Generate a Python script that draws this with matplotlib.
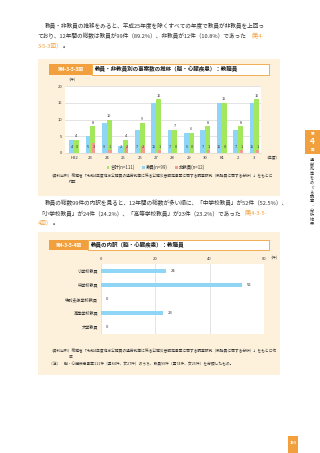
import numpy as np
import matplotlib.pyplot as plt
from matplotlib.patches import Rectangle

plt.rcParams['font.family'] = ['Noto Sans CJK JP', 'DejaVu Sans']

# 第4-3-5-3図 data
years = ['H22', '23', '24', '25', '26', '27', '28', '29', '30', 'R1', '2', '3']
total = [4, 8, 10, 4, 9, 16, 7, 6, 8, 15, 8, 16]
teachers = [4, 5, 9, 2, 7, 15, 7, 6, 7, 15, 7, 15]
non_teachers = [0, 3, 1, 2, 2, 1, 0, 0, 1, 0, 1, 1]
y_ticks1 = [0, 5, 10, 15, 20]

# 第4-3-5-4図 data
job_types = ['小学校教員', '中学校教員', '特別支援学校教員', '高等学校教員', '大学教員']
job_counts = [24, 52, 0, 23, 0]
x_ticks2 = [0, 20, 40, 60]

GREEN = '#A3E85C'
BLUE = '#8FD6F6'
RED = '#F59B8E'
ORANGE = '#F2A03D'
CREAM = '#FDF1DC'
TXT = '#333333'

W, H = 320, 453
fig = plt.figure(figsize=(W / 100, H / 100), dpi=100)

# background axes in pixel coords (y down)
bg = fig.add_axes([0, 0, 1, 1], zorder=-1)
bg.set_xlim(0, W)
bg.set_ylim(H, 0)
bg.axis('off')


def box(x0, y0, x1, y1, fc, ec='none', lw=0):
    bg.add_patch(Rectangle((x0, y0), x1 - x0, y1 - y0, facecolor=fc,
                           edgecolor=ec, linewidth=lw))


def ax_at(x0, y0, x1, y1):
    return fig.add_axes([x0 / W, 1 - y1 / H, (x1 - x0) / W, (y1 - y0) / H])


def line(x, y, parts, size):
    # texts of several colours one after another
    t = bg.text(x, y, parts[0][0], color=parts[0][1], fontsize=size,
                va='center', ha='left')
    for s, c in parts[1:]:
        t = bg.annotate(s, xy=(1, 0), xycoords=t, va='bottom', ha='left',
                        color=c, fontsize=size)
    return t


fs_body = 4.1
# paragraph 1
line(45, 26, [('教員・非教員の推移をみると、平成25年度を除くすべての年度で教員が非教員を上回っ', TXT)], fs_body)
line(38, 36, [('ており、12年間の総数は教員が99件（89.2%）、非教員が12件（10.8%）であった', TXT),
              ('（第4-', ORANGE)], fs_body)
line(38, 46, [('3-5-3図）', ORANGE), ('。', TXT)], fs_body)

# ---- box 1 ----
box(38, 59, 280, 196, CREAM)
box(49, 64, 92, 75, ORANGE)
box(92, 64, 269, 75, 'white', ORANGE, 0.6)
bg.text(70.5, 69.5, '第4-3-5-3図', color='white', fontsize=3.4, ha='center', va='center', weight='bold')
bg.text(95, 69.5, '教員・非教員別の事案数の推移（脳・心臓疾患）：教職員', color='#222222',
        fontsize=4.0, ha='left', va='center', weight='bold')

ax1 = ax_at(65, 86, 261, 153)
x = np.arange(len(years))
b_t = ax1.bar(x - 0.15, teachers, width=0.3, color=BLUE, zorder=2, label='教員(n=99)')
b_a = ax1.bar(x + 0.15, total, width=0.3, color=GREEN, zorder=2, label='合計(n=111)')
b_n = ax1.bar(x + 0.2, non_teachers, width=0.2, color=RED, zorder=3, label='非教員(n=12)')
for i in range(len(years)):
    ax1.text(x[i] + 0.15, total[i] + 0.5, str(total[i]), ha='center', va='bottom', fontsize=2.8, color=TXT)
    ax1.text(x[i] - 0.15, 1.7, str(teachers[i]), ha='center', va='center', fontsize=2.8, color=TXT, zorder=4)
    ax1.text(x[i] + 0.2, 1.7, str(non_teachers[i]), ha='center', va='center', fontsize=2.8, color=TXT, zorder=4)
ax1.set_xlim(-0.55, 11.4)
ax1.set_ylim(0, 20)
ax1.set_yticks(y_ticks1)
ax1.set_xticks(x)
ax1.set_xticklabels(years)
ax1.tick_params(length=0, labelsize=3.0, colors=TXT, pad=2)
ax1.yaxis.grid(True, color='#D9D9D9', lw=0.5, zorder=0)
for s in ax1.spines.values():
    s.set_visible(False)
ax1.spines['bottom'].set_visible(True)
ax1.spines['bottom'].set_color('#D9D9D9')
ax1.spines['bottom'].set_linewidth(0.5)
bg.text(66, 80, '（件）', fontsize=2.8, color=TXT, ha='left', va='center')
bg.text(264, 158, '（年度）', fontsize=2.8, color=TXT, ha='left', va='center')
fig.legend(handles=[b_a, b_t, b_n], loc='center', bbox_to_anchor=(156 / W, 1 - 167 / H),
           ncol=3, frameon=False, fontsize=3.2, handlelength=0.6, handleheight=0.6,
           handletextpad=0.3, columnspacing=1.6, labelcolor=TXT)

src = '（資料出所）総務省「令和4年度地方公務員の過労死等に係る公務災害認定事案に関する調査研究（教職員に関する分析）」をもとに'
line(49, 176, [(src, TXT)], 2.7)
line(69, 182, [('作成', TXT)], 2.7)

# paragraph 2
line(45, 203, [('教員の総数99件の内訳を見ると、12年間の総数が多い順に、「中学校教員」が52件（52.5%）、', TXT)], fs_body)
line(38, 213, [('「小学校教員」が24件（24.2%）、「高等学校教員」が23件（23.2%）であった', TXT),
               ('（第4-3-5-', ORANGE)], fs_body)
line(38, 223, [('4図）', ORANGE), ('。', TXT)], fs_body)

# ---- box 2 ----
box(38, 232, 280, 375, CREAM)
box(49, 240, 88, 250, ORANGE)
box(88, 240, 269, 250, 'white', ORANGE, 0.6)
bg.text(68.5, 245, '第4-3-5-4図', color='white', fontsize=3.4, ha='center', va='center', weight='bold')
bg.text(91, 245, '教員の内訳（脳・心臓疾患）：教職員', color='#222222',
        fontsize=4.0, ha='left', va='center', weight='bold')

ax2 = ax_at(101, 264, 264, 334)
yy = np.arange(len(job_types))
ax2.barh(yy, job_counts, height=0.32, color=BLUE, zorder=2)
for i, v in enumerate(job_counts):
    ax2.text(v + 1.6, yy[i], str(v), ha='left', va='center', fontsize=3.0, color=TXT)
ax2.set_xlim(0, 60)
ax2.set_ylim(len(job_types) - 0.5, -0.5)
ax2.xaxis.tick_top()
ax2.set_xticks(x_ticks2)
ax2.set_yticks(yy)
ax2.set_yticklabels(job_types)
ax2.tick_params(length=0, labelsize=3.0, colors=TXT, pad=2)
ax2.xaxis.grid(True, color='#D9D9D9', lw=0.5, zorder=0)
for s in ax2.spines.values():
    s.set_visible(False)
bg.text(268, 258, '（件）', fontsize=2.8, color=TXT, ha='left', va='center')
bg.text(240, 328, '全体(n=99)', fontsize=3.0, color=TXT, ha='center', va='center')

line(49, 351, [(src + '作', TXT)], 2.7)
line(69, 357, [('成', TXT)], 2.7)
line(49, 364, [('（注）　脳・心臓疾患事案111件（男84件、女27件）のうち、教員99件（男74件、女25件）を分類したもの。', TXT)], 2.7)

# side tab
box(305, 130, 320, 154, ORANGE)
bg.text(312.5, 134, '第', color='white', fontsize=2.6, ha='center', va='center', weight='bold')
bg.text(312.5, 142, '4', color='white', fontsize=6.0, ha='center', va='center', weight='bold')
bg.text(312.5, 150, '章', color='white', fontsize=2.6, ha='center', va='center', weight='bold')
for k, ch in enumerate('過労死等をめぐる調査・分析結果'):
    bg.text(312, 160 + k * 4.6, ch, color=TXT, fontsize=3.0, ha='center', va='center')

# page number
box(288, 436, 298, 453, ORANGE)
bg.text(293, 443, '193', color='white', fontsize=2.8, ha='center', va='center', weight='bold')

fig.savefig('out.png', dpi=100)
